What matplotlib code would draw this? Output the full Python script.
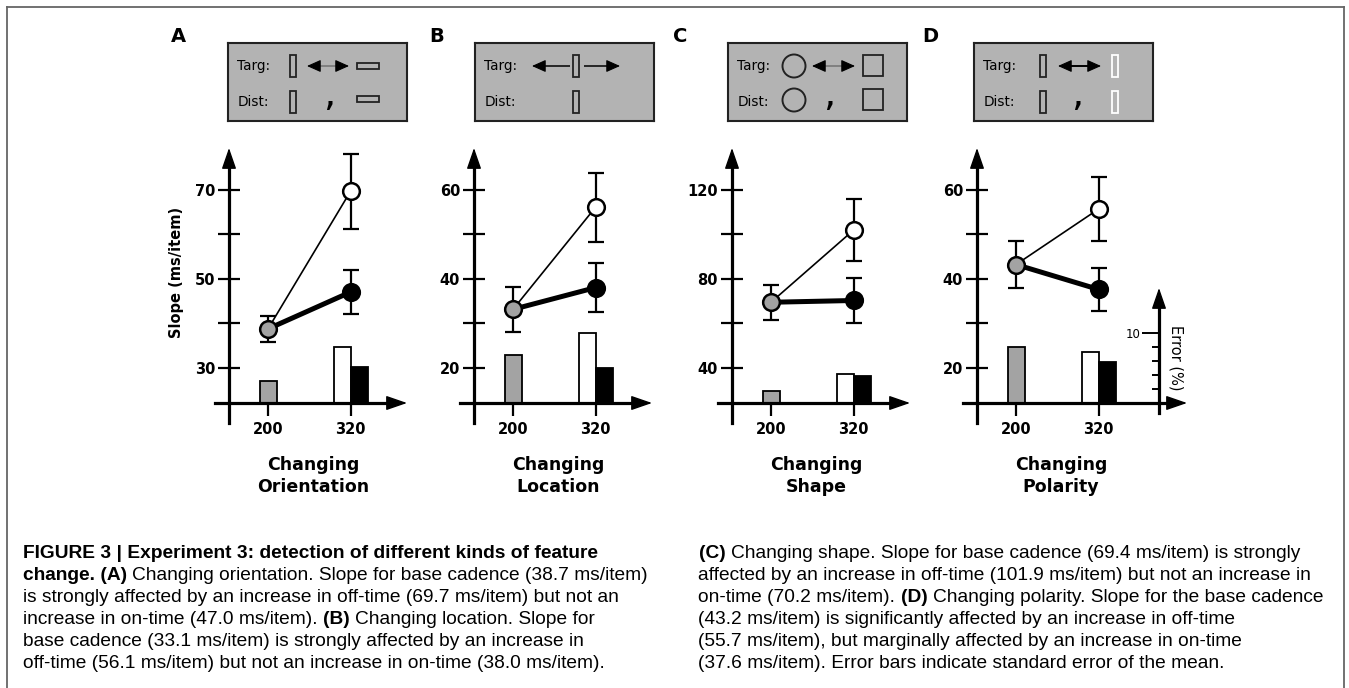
import matplotlib
matplotlib.use('Agg')
import matplotlib.pyplot as plt
from matplotlib.patches import Rectangle, Circle
from matplotlib.lines import Line2D
from matplotlib import font_manager

W, H = 1349, 688

# ---- data ----
panel_names = ['A', 'B', 'C', 'D']
xlabels = ['Changing\nOrientation', 'Changing\nLocation', 'Changing\nShape', 'Changing\nPolarity']
cadence = [200, 320]
base_slope = [38.7, 33.1, 69.4, 43.2]   # grey, 200
off_slope = [69.7, 56.1, 101.9, 55.7]   # white, 320 (off-time)
on_slope = [47.0, 38.0, 70.2, 37.6]     # black, 320 (on-time)
base_sem = [3.0, 5.0, 8.0, 5.3]
off_sem = [8.5, 7.8, 14.0, 7.3]
on_sem = [5.0, 5.6, 10.0, 4.8]
base_err = [3.1, 6.9, 1.7, 8.0]         # error rate (%)
off_err = [8.0, 10.0, 4.1, 7.3]
on_err = [5.1, 5.0, 3.8, 5.9]
yticks = [[30, 40, 50, 60, 70], [20, 30, 40, 50, 60], [40, 60, 80, 100, 120], [20, 30, 40, 50, 60]]
err_major = [10]
err_minor = [2, 4, 6, 8]

# ---- layout (pixels, origin top-left) ----
axis_px = [229, 474, 732, 977]
letter_px = [178, 437, 680, 930]
box_left = [228, 475, 728, 974]
tick_top, tick_bot = 190, 367.5
xaxis_y, spine_bot, arrow_top = 403, 423, 148
kx = 82.5 / 120      # px per ms of cadence
ke = 7.0             # px per % error
GREY = '#a3a3a3'

fig = plt.figure(figsize=(W / 100, H / 100), dpi=100)
fig.patch.set_facecolor('white')


def fbox(x0, y0, x1, y1):
    return [x0 / W, 1 - y1 / H, (x1 - x0) / W, (y1 - y0) / H]


def head(ax, p0, p1, lw=1.0, hl=1.3, hw=0.45):
    ax.annotate('', xy=p1, xytext=p0, annotation_clip=False,
                arrowprops=dict(arrowstyle='-|>,head_length=%s,head_width=%s' % (hl, hw),
                                mutation_scale=10, fc='k', ec='k', lw=lw,
                                shrinkA=0, shrinkB=0))


for i in range(4):
    axis = axis_px[i]
    ticks = yticks[i]
    lo, hi = ticks[0], ticks[-1]
    s = (tick_bot - tick_top) / (hi - lo)
    y_bot = lo - (spine_bot - tick_bot) / s
    y_x = lo - (xaxis_y - tick_bot) / s
    y_top = hi + (tick_top - arrow_top) / s
    x_ax = cadence[0] - 39 / kx
    right = axis + (210 if i == 3 else 178)
    x_lo = x_ax - 14 / kx
    x_hi = x_ax + (right - axis) / kx

    ax = fig.add_axes(fbox(axis - 14, arrow_top, right, spine_bot))
    ax2 = ax.twinx()
    ax.set_zorder(ax2.get_zorder() + 1)
    ax.patch.set_visible(False)
    ax.set_xlim(x_lo, x_hi)
    ax.set_ylim(y_bot, y_top)

    for side in ['top', 'right']:
        ax.spines[side].set_visible(False)
    ax.spines['left'].set_position(('data', x_ax))
    ax.spines['left'].set_bounds(y_bot, y_top - 10 / s)
    ax.spines['bottom'].set_position(('data', y_x))
    ax.spines['bottom'].set_bounds(x_lo, x_hi - 10 / kx)
    for side in ['left', 'bottom']:
        ax.spines[side].set_linewidth(2.3)
    head(ax, (x_ax, y_top - 18 / s), (x_ax, y_top))
    head(ax, (x_hi - 18 / kx, y_x), (x_hi, y_x))

    ax.set_yticks(ticks)
    ax.set_yticklabels([str(t) if k % 2 == 0 else '' for k, t in enumerate(ticks)],
                       fontweight='bold', fontsize=10.5)
    ax.tick_params(axis='y', direction='inout', length=16, width=1.6, pad=2)
    ax.set_xticks(cadence)
    ax.set_xticklabels([str(c) for c in cadence], fontweight='bold', fontsize=10.5)
    ax.tick_params(axis='x', direction='out', length=9, width=1.6, pad=4.5)

    # slopes
    ax.plot(cadence, [base_slope[i], off_slope[i]], color='k', lw=1.2, zorder=2)
    ax.plot(cadence, [base_slope[i], on_slope[i]], color='k', lw=3.6, zorder=2)
    eb = dict(fmt='none', ecolor='k', elinewidth=1.6, capsize=5.5, capthick=1.6, zorder=3)
    ax.errorbar(cadence[0], base_slope[i], yerr=base_sem[i], **eb)
    ax.errorbar(cadence[1], off_slope[i], yerr=off_sem[i], **eb)
    ax.errorbar(cadence[1], on_slope[i], yerr=on_sem[i], **eb)
    mk = dict(marker='o', ms=12, mec='k', mew=1.8, ls='none', zorder=4)
    ax.plot(cadence[0], base_slope[i], mfc=GREY, **mk)
    ax.plot(cadence[1], off_slope[i], mfc='white', **mk)
    ax.plot(cadence[1], on_slope[i], mfc='k', **mk)

    # error bars (%)
    ax2.set_ylim(-(spine_bot - xaxis_y) / ke, (xaxis_y - arrow_top) / ke)
    for sp in ax2.spines.values():
        sp.set_visible(False)
    bw = 17 / kx
    ax2.bar(cadence[0], base_err[i], width=bw, color=GREY, edgecolor='k', lw=1.3)
    ax2.bar(cadence[1], off_err[i], width=-bw, align='edge', color='white', edgecolor='k', lw=1.3)
    ax2.bar(cadence[1], on_err[i], width=bw, align='edge', color='k', edgecolor='k', lw=1.3)

    if i == 3:
        err_x = x_ax + (1159 - axis) / kx
        e_lo = -(413 - xaxis_y) / ke
        e_top = (xaxis_y - 288) / ke
        ax2.yaxis.set_ticks_position('left')
        sp = ax2.spines['left']
        sp.set_visible(True)
        sp.set_position(('data', err_x))
        sp.set_bounds(e_lo, e_top - 10 / ke)
        sp.set_linewidth(2.3)
        head(ax2, (err_x, e_top - 18 / ke), (err_x, e_top))
        ax2.set_yticks(err_major)
        ax2.set_yticklabels([str(v) for v in err_major], fontsize=8.5)
        ax2.set_yticks(err_minor, minor=True)
        ax2.tick_params(axis='y', which='major', direction='out', length=12, width=1.4,
                        pad=1, left=True, right=False, labelleft=True, labelright=False)
        ax2.tick_params(axis='y', which='minor', direction='out', length=5, width=1.4,
                        left=True, right=False)
        ax2.text(err_x + 17 / kx, (xaxis_y - 358) / ke, 'Error (%)', rotation=-90,
                 ha='center', va='center', fontsize=10.5)
    else:
        ax2.set_yticks([])

    fig.text((axis + 84) / W, 1 - 476 / H, xlabels[i], ha='center', va='center',
             fontsize=12.5, fontweight='bold', linespacing=1.25)
    fig.text(letter_px[i] / W, 1 - 37 / H, panel_names[i], ha='center', va='center',
             fontsize=14, fontweight='bold')

fig.text(177 / W, 1 - 272 / H, 'Slope (ms/item)', rotation=90, ha='center', va='center',
         fontsize=10.5, fontweight='bold')

# ---- stimulus boxes ----
EDGE = '#222222'


def box_axes(bx):
    bax = fig.add_axes(fbox(bx, 43, bx + 179, 121))
    bax.set_xlim(0, 179)
    bax.set_ylim(78, 0)
    bax.set_facecolor('#b3b3b3')
    bax.set_xticks([])
    bax.set_yticks([])
    for sp in bax.spines.values():
        sp.set_linewidth(1.5)
        sp.set_color(EDGE)
    bax.text(9, 23, 'Targ:', va='center', fontsize=9.8)
    bax.text(10, 59, 'Dist:', va='center', fontsize=9.8)
    return bax


def rect(bax, x, y, w, h, ec=EDGE):
    bax.add_patch(Rectangle((x, y), w, h, fill=False, ec=ec, lw=1.3))


def tip(bax, x_from, x_to, y):
    # black arrow head only, pointing from x_from to x_to
    bax.annotate('', xy=(x_to, y), xytext=(x_from, y),
                 arrowprops=dict(arrowstyle='-|>,head_length=0.85,head_width=0.38',
                                 mutation_scale=10, fc='k', ec='k', lw=0.8,
                                 shrinkA=0, shrinkB=0))


def dbl(bax, x0, x1, y, shaft):
    bax.plot([x0 + 6, x1 - 6], [y, y], color=shaft, lw=1.4, solid_capstyle='butt')
    tip(bax, x0 + 11, x0, y)
    tip(bax, x1 - 11, x1, y)


def single(bax, x0, x1, y):
    step = 11 if x1 > x0 else -11
    bax.plot([x0, x1 - step / 2], [y, y], color='k', lw=1.1, solid_capstyle='butt')
    tip(bax, x1 - step, x1, y)


def comma(bax, x):
    bax.text(x, 62, ',', ha='center', va='baseline', fontsize=28)


# A: orientation
b = box_axes(box_left[0])
rect(b, 62, 12, 6, 22)
dbl(b, 79, 121, 23, '#808080')
rect(b, 129, 20, 22, 6)
rect(b, 62, 48, 6, 22)
comma(b, 101)
rect(b, 129, 53, 22, 6)

# B: location
b = box_axes(box_left[1])
single(b, 95, 57, 23)
rect(b, 98, 12, 6, 22)
single(b, 109, 145, 23)
rect(b, 98, 48, 6, 22)

# C: shape
b = box_axes(box_left[2])
b.add_patch(Circle((66, 23), 11.5, fill=False, ec=EDGE, lw=1.4))
dbl(b, 84, 127, 23, '#808080')
rect(b, 135, 12, 20, 21)
b.add_patch(Circle((66, 57), 11.5, fill=False, ec=EDGE, lw=1.4))
comma(b, 101)
rect(b, 135, 46, 20, 21)

# D: polarity
b = box_axes(box_left[3])
rect(b, 66, 12, 6, 22)
dbl(b, 84, 127, 23, 'k')
rect(b, 138, 12, 6, 22, ec='white')
rect(b, 66, 48, 6, 22)
comma(b, 103)
rect(b, 138, 48, 6, 22, ec='white')

# ---- frame ----
for xs, ys in [([6.5, 6.5], [H, 7]), ([6.5, 1344], [7, 7]), ([1344, 1344], [7, H])]:
    fig.add_artist(Line2D([x / W for x in xs], [1 - y / H for y in ys],
                          color='#666666', lw=1.3))

# ---- caption ----
left_lines = [
    [("FIGURE 3 | Experiment 3: detection of different kinds of feature", True)],
    [("change. (A)", True), ("Changing orientation. Slope for base cadence (38.7 ms/item)", False)],
    [("is strongly affected by an increase in off-time (69.7 ms/item) but not an", False)],
    [("increase in on-time (47.0 ms/item).", False), ("(B)", True), ("Changing location. Slope for", False)],
    [("base cadence (33.1 ms/item) is strongly affected by an increase in", False)],
    [("off-time (56.1 ms/item) but not an increase in on-time (38.0 ms/item).", False)],
]
right_lines = [
    [("(C)", True), ("Changing shape. Slope for base cadence (69.4 ms/item) is strongly", False)],
    [("affected by an increase in off-time (101.9 ms/item) but not an increase in", False)],
    [("on-time (70.2 ms/item).", False), ("(D)", True), ("Changing polarity. Slope for the base cadence", False)],
    [("(43.2 ms/item) is significantly affected by an increase in off-time", False)],
    [("(55.7 ms/item), but marginally affected by an increase in on-time", False)],
    [("(37.6 ms/item). Error bars indicate standard error of the mean.", False)],
]


def has_font(name):
    try:
        font_manager.findfont(name, fallback_to_default=False)
        return True
    except ValueError:
        return False


cap_family = 'Liberation Sans Narrow' if has_font('Liberation Sans Narrow') else 'Liberation Sans'
renderer = fig.canvas.get_renderer()


def run_width(txt, bold, size):
    t = fig.text(0, 0, txt, fontsize=size, family=cap_family,
                 fontweight='bold' if bold else 'normal')
    w = t.get_window_extent(renderer).width
    t.remove()
    return w


def line_width(runs, size):
    gap = run_width('a a', False, size) - run_width('aa', False, size)
    return sum(run_width(t, b, size) for t, b in runs) + gap * (len(runs) - 1)


def draw_line(x, y, runs, size):
    gap = run_width('a a', False, size) - run_width('aa', False, size)
    for txt, bold in runs:
        fig.text(x / W, 1 - y / H, txt, fontsize=size, family=cap_family,
                 fontweight='bold' if bold else 'normal', va='baseline')
        x += run_width(txt, bold, size) + gap


cap_size = 12 * 597 / line_width(left_lines[2], 12)
right_x = 1300 - line_width(right_lines[0], cap_size)
for k, runs in enumerate(left_lines):
    draw_line(23, 558 + 22 * k, runs, cap_size)
for k, runs in enumerate(right_lines):
    draw_line(right_x, 558 + 22 * k, runs, cap_size)

fig.savefig('out.png', dpi=100, facecolor='white')
